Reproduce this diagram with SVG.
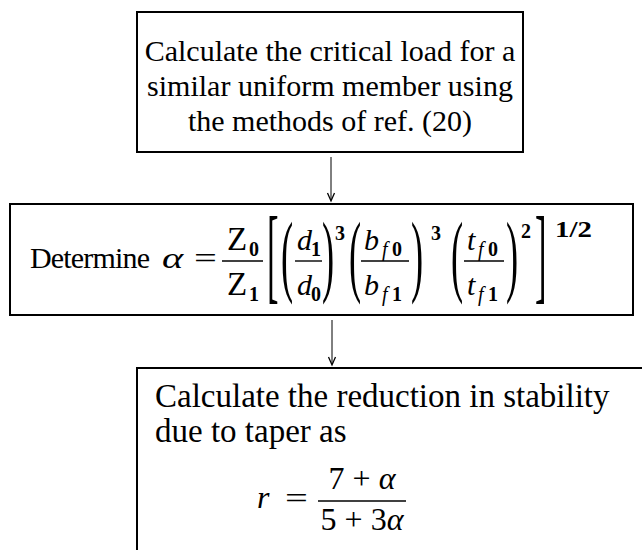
<svg xmlns="http://www.w3.org/2000/svg" width="642" height="550" viewBox="0 0 642 550">
<defs>
<style>
.box{fill:none;stroke:#000;stroke-width:2}
.t{font-family:"Liberation Serif","Times New Roman",serif;font-size:30px;fill:#000}
.i{font-style:italic}
.s{font-size:20px}
.b{font-weight:bold}
.p{font-size:91px}
.k{font-size:105px}
.bar{stroke:#000;stroke-width:1.4}
.conn{stroke:#000;stroke-width:1;fill:none}
.head{stroke:#000;stroke-width:1.3;fill:none}
</style>
</defs>
<rect width="642" height="550" fill="#fff"/>
<g id="connectors">
<line class="conn" x1="331" y1="157" x2="331" y2="200"/>
<polyline class="head" points="327.5,193 331,201 334.5,193"/>
<line class="conn" x1="332" y1="320" x2="332" y2="364"/>
<polyline class="head" points="328.5,357 332,365 335.5,357"/>
</g>
<g id="node1">
<rect class="box" x="137" y="12" width="386" height="140"/>
<text class="t" x="330" y="61" text-anchor="middle">Calculate the critical load for a</text>
<text class="t" x="330" y="96" text-anchor="middle">similar uniform member using</text>
<text class="t" x="330" y="131" text-anchor="middle">the methods of ref. (20)</text>
</g>
<g id="node2">
<rect class="box" x="10" y="204" width="623" height="111"/>
<text class="t" x="30" y="268" textLength="120">Determine</text>
<text class="t i" transform="translate(162,268) scale(1.35,1)">α</text>
<text class="t" transform="translate(194,268) scale(1.35,1)">=</text>
<text class="t" x="227" y="250" style="font-size:33px">Z</text><text class="t s b" x="249" y="256">0</text>
<line class="bar" x1="222" y1="261" x2="263" y2="261"/>
<text class="t" x="227" y="295" style="font-size:33px">Z</text><text class="t s b" x="249" y="301">1</text>
<text class="t k" transform="translate(267,290) scale(0.33,1)">[</text>
<text class="t p" transform="translate(281,285) scale(0.4,1)">(</text>
<text class="t i" x="297" y="250">d</text><text class="t s b" x="311" y="256">1</text>
<line class="bar" x1="295" y1="261" x2="322" y2="261"/>
<text class="t i" x="297" y="295">d</text><text class="t s b" x="311" y="301">0</text>
<text class="t p" transform="translate(322,285) scale(0.4,1)">)</text>
<text class="t s b" x="335" y="240">3</text>
<text class="t p" transform="translate(349,285) scale(0.4,1)">(</text>
<text class="t i" x="364" y="250">b</text><text class="t s i" x="382" y="256">f</text><text class="t s b" x="392" y="256">0</text>
<line class="bar" x1="361" y1="261" x2="409" y2="261"/>
<text class="t i" x="364" y="295">b</text><text class="t s i" x="382" y="301">f</text><text class="t s b" x="392" y="301">1</text>
<text class="t p" transform="translate(411,285) scale(0.4,1)">)</text>
<text class="t s b" x="431" y="240">3</text>
<text class="t p" transform="translate(451,285) scale(0.4,1)">(</text>
<text class="t i" x="467" y="250">t</text><text class="t s i" x="478" y="256">f</text><text class="t s b" x="488" y="256">0</text>
<line class="bar" x1="464" y1="261" x2="504" y2="261"/>
<text class="t i" x="467" y="295">t</text><text class="t s i" x="478" y="301">f</text><text class="t s b" x="488" y="301">1</text>
<text class="t p" transform="translate(506,285) scale(0.4,1)">)</text>
<text class="t s b" x="521" y="238">2</text>
<text class="t k" transform="translate(535,290) scale(0.33,1)">]</text>
<text class="t b" transform="translate(555,237) scale(1.2,1)" style="font-size:24px">1/2</text>
</g>
<g id="node3">
<polyline class="box" points="137,550 137,368 642,368"/>
<text class="t" x="155" y="407" style="font-size:33px">Calculate the reduction in stability</text>
<text class="t" x="155" y="442" style="font-size:33px">due to taper as</text>
<text class="t i" x="257" y="508" style="font-size:32px">r</text>
<text class="t" transform="translate(285,508) scale(1.35,1)">=</text>
<text class="t" x="362" y="489" text-anchor="middle" style="font-size:32px">7 + <tspan class="i">α</tspan></text>
<line class="bar" x1="318" y1="501" x2="406" y2="501"/>
<text class="t" x="362" y="530" text-anchor="middle" style="font-size:32px">5 + 3<tspan class="i">α</tspan></text>
</g>
</svg>
